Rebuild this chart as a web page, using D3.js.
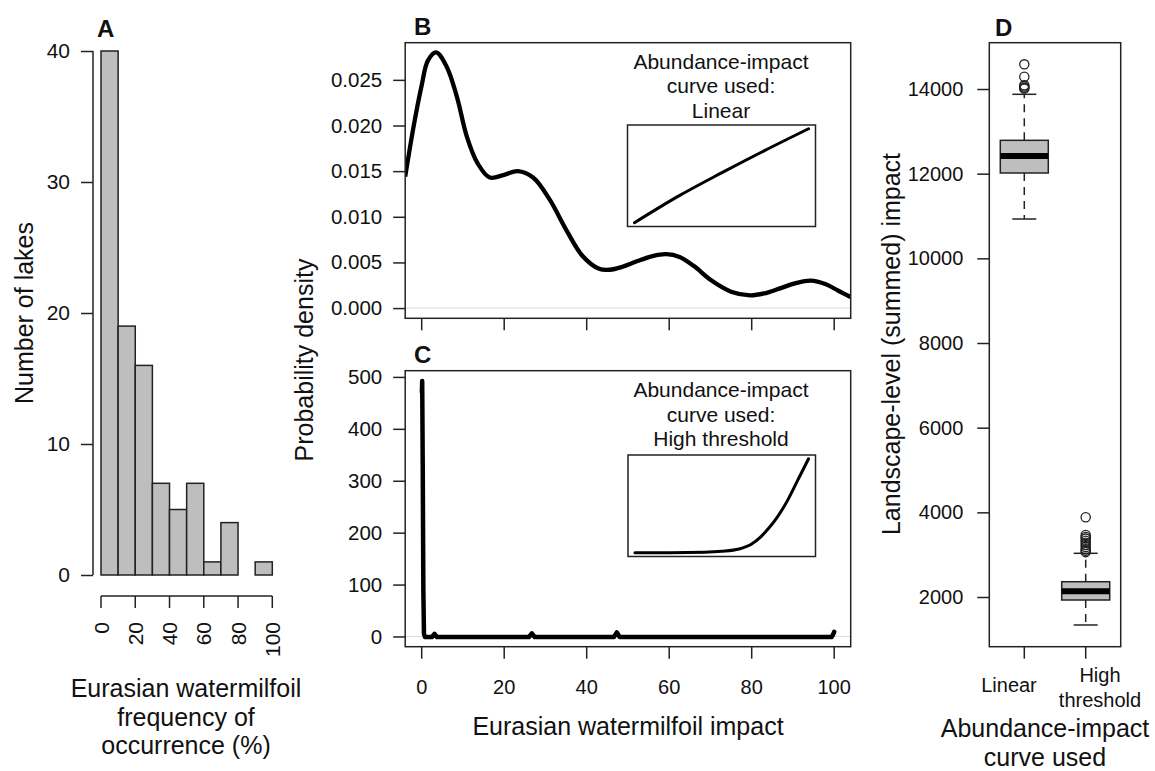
<!DOCTYPE html>
<html>
<head>
<meta charset="utf-8">
<script src="https://cdn.jsdelivr.net/npm/d3@7"></script>
<style>
  body { margin: 0; background: #fff; }
  svg { font-family: "Liberation Sans", Arial, sans-serif; }
</style>
</head>
<body>
<div id="chart"></div>
<script>
  // ---- data ----
  // A: histogram of frequency of occurrence
  var histEdges = [0, 10, 20, 30, 40, 50, 60, 70, 80, 90, 100];
  var histCounts = [40, 19, 16, 7, 5, 7, 1, 4, 0, 1];
  var histXTicks = [0, 20, 40, 60, 80, 100];
  var histYTicks = [0, 10, 20, 30, 40];

  // B: density of impact, linear curve
  var linImpact = [-4, -2, 0, 1.5, 3.5, 6, 8.5, 11, 13.5, 16.5, 20, 23.3, 27, 31, 35, 39, 43, 45.6,
                   48.5, 52, 56, 59.3, 62.5, 66, 70, 75, 79.6, 83, 86.5, 90.5, 94.3, 98, 101, 104];
  var linDensity = [0.0144, 0.0198, 0.0244, 0.0271, 0.0280, 0.0265, 0.0232, 0.0187, 0.0159, 0.0143,
                    0.0146, 0.0150, 0.0143, 0.0119, 0.0086, 0.0057, 0.0043, 0.0042, 0.0045, 0.0051,
                    0.0057, 0.0059, 0.0056, 0.0046, 0.0031, 0.0018, 0.0014, 0.0016, 0.0021, 0.0027,
                    0.0030, 0.0026, 0.0019, 0.0012];
  var linDensityTicks = [0, 0.005, 0.010, 0.015, 0.020, 0.025];

  // C: density of impact, high threshold curve
  var thrImpact = [0.05, 0.12, 0.25, 0.4, 0.55, 0.8, 2.5, 3.1, 3.7, 26, 26.7, 27.4, 46.6, 47.3, 48, 99.4, 99.8, 100];
  var thrDensity = [470, 492, 330, 90, 5, -1, -1, 5, -1, -1, 6, -1, -1, 8, -1, -1, 5, 9];
  var thrDensityTicks = [0, 100, 200, 300, 400, 500];
  var impactTicks = [0, 20, 40, 60, 80, 100];

  // inset abundance-impact curves
  var insetAbundance = [0, 0.25, 0.5, 0.75, 1];
  var insetLinear = [0, 0.28, 0.53, 0.77, 1];
  var insetThrAbund = [0, 0.2, 0.4, 0.5, 0.6, 0.67, 0.72, 0.77, 0.82, 0.88, 0.94, 1];
  var insetThrImpact = [0, 0, 0.005, 0.015, 0.04, 0.09, 0.16, 0.26, 0.38, 0.56, 0.78, 1];

  // D: boxplots of summed impact
  var curveNames = ["Linear", "High threshold"];
  var boxLow = [10929, 1339];
  var boxQ1 = [12016, 1929];
  var boxMedian = [12417, 2135];
  var boxQ3 = [12788, 2361];
  var boxHigh = [13875, 3032];
  var linOutliers = [14583, 14291, 14090, 14060, 14030, 14010];
  var thrOutliers = [3883, 3465, 3420, 3380, 3330, 3280, 3230, 3180, 3130, 3090, 3060];
  var summedTicks = [2000, 4000, 6000, 8000, 10000, 12000, 14000];

  var W = 1155, H = 771;
  var ink = "#222", grayFill = "#bebebe";

  var svg = d3.select("#chart").append("svg")
      .attr("width", W)
      .attr("height", H);

  // small helpers for R-like axes
  function leftAxis(scale, ticks, fmt, x, pad, size) {
    var g = svg.append("g")
        .attr("transform", "translate(" + x + ",0)")
        .call(d3.axisLeft(scale).tickValues(ticks).tickFormat(fmt)
          .tickSize(12).tickPadding(pad || 11).tickSizeOuter(0));
    g.select(".domain").remove();
    g.attr("font-size", size || 20).attr("font-family", null);
    g.selectAll("line").attr("stroke", ink).attr("stroke-width", 1.5);
    g.selectAll("text").attr("fill", "#111");
    return g;
  }
  function bottomTicks(scale, ticks, y) {
    var g = svg.append("g").attr("transform", "translate(0," + y + ")");
    g.selectAll("line").data(ticks).enter().append("line")
      .attr("x1", function(d){ return scale(d); })
      .attr("x2", function(d){ return scale(d); })
      .attr("y1", 0).attr("y2", 12)
      .attr("stroke", ink).attr("stroke-width", 1.5);
    return g;
  }
  function frame(x0, y0, x1, y1, sw) {
    svg.append("rect")
      .attr("x", x0).attr("y", y0)
      .attr("width", x1 - x0).attr("height", y1 - y0)
      .attr("fill", "none").attr("stroke", ink).attr("stroke-width", sw || 1.5);
  }
  function label(txt, x, y, size, opts) {
    opts = opts || {};
    var t = svg.append("text")
      .attr("x", x).attr("y", y)
      .attr("font-size", size)
      .attr("text-anchor", opts.anchor || "middle")
      .attr("fill", "#111")
      .text(txt);
    if (opts.bold) t.attr("font-weight", "bold");
    if (opts.rotate) t.attr("transform", "rotate(-90," + x + "," + y + ")");
    return t;
  }

  // ================= A =================
  var xA = d3.scaleLinear().domain([0, 100]).range([101, 272.3]);
  var yA = d3.scaleLinear().domain([0, 40]).range([575, 51]);

  var bins = histCounts.map(function(c, i) {
    return {x0: histEdges[i], x1: histEdges[i + 1], n: c};
  });
  svg.append("g").selectAll("rect").data(bins)
    .enter().append("rect")
    .attr("x", function(d){ return xA(d.x0); })
    .attr("y", function(d){ return yA(d.n); })
    .attr("width", function(d){ return xA(d.x1) - xA(d.x0); })
    .attr("height", function(d){ return yA(0) - yA(d.n); })
    .attr("fill", grayFill)
    .attr("stroke", ink)
    .attr("stroke-width", 1.5);

  leftAxis(yA, histYTicks, d3.format("d"), 93, 11, 21);
  svg.append("line").attr("x1", 93).attr("x2", 93)
    .attr("y1", yA(0)).attr("y2", yA(40))
    .attr("stroke", ink).attr("stroke-width", 1.5);

  svg.append("line").attr("x1", xA(0)).attr("x2", xA(100))
    .attr("y1", 596).attr("y2", 596)
    .attr("stroke", ink).attr("stroke-width", 1.5);
  bottomTicks(xA, histXTicks, 596);
  svg.append("g").selectAll("text").data(histXTicks)
    .enter().append("text")
    .attr("transform", function(d){ return "translate(" + xA(d) + ",622) rotate(-90)"; })
    .attr("dy", "0.36em")
    .attr("text-anchor", "end")
    .attr("font-size", 21)
    .attr("fill", "#111")
    .text(function(d){ return d; });

  label("A", 97, 36.5, 24, {anchor: "start", bold: true});
  label("Number of lakes", 33, 313, 25, {rotate: true});
  label("Eurasian watermilfoil", 186, 697, 25);
  label("frequency of", 186, 725.5, 25);
  label("occurrence (%)", 186, 754, 25);

  // ================= B =================
  var xB = d3.scaleLinear().domain([-4, 104]).range([405.2, 850.7]);
  var yB = d3.scaleLinear().domain([-0.00112, 0.02907]).range([318.3, 42.7]);

  svg.append("defs").append("clipPath").attr("id", "clipB")
    .append("rect").attr("x", 405.2).attr("y", 42.7)
    .attr("width", 445.5).attr("height", 275.6);

  svg.append("line")
    .attr("x1", xB(-4)).attr("x2", xB(104))
    .attr("y1", yB(0)).attr("y2", yB(0))
    .attr("stroke", "#dcdcdc").attr("stroke-width", 1);

  var lineB = d3.line()
    .x(function(d, i){ return xB(linImpact[i]); })
    .y(function(d){ return yB(d); })
    .curve(d3.curveCatmullRom);
  svg.append("path")
    .attr("d", lineB(linDensity))
    .attr("clip-path", "url(#clipB)")
    .attr("fill", "none")
    .attr("stroke", "#000")
    .attr("stroke-width", 4.3)
    .attr("stroke-linejoin", "round");

  frame(405.2, 42.7, 850.7, 318.3);
  leftAxis(yB, linDensityTicks, d3.format(".3f"), 405.2, 11, 20.5);
  bottomTicks(xB, impactTicks, 318.3);
  label("B", 414, 35, 24, {anchor: "start", bold: true});

  // inset B
  var ixB = d3.scaleLinear().domain([-0.04, 1.04]).range([627.5, 815.5]);
  var iyB = d3.scaleLinear().domain([-0.04, 1.04]).range([226.5, 125]);
  frame(627.5, 125, 815.5, 226.5);
  svg.append("path")
    .attr("d", d3.line()
      .x(function(d, i){ return ixB(insetAbundance[i]); })
      .y(function(d){ return iyB(d); })
      .curve(d3.curveMonotoneX)(insetLinear))
    .attr("fill", "none").attr("stroke", "#000").attr("stroke-width", 3)
    .attr("stroke-linecap", "round");
  label("Abundance-impact", 721, 68.5, 21);
  label("curve used:", 721, 93, 21);
  label("Linear", 721, 117.5, 21);

  // ================= C =================
  var yC = d3.scaleLinear().domain([-19.7, 512]).range([646.7, 370.7]);

  svg.append("line")
    .attr("x1", xB(-4)).attr("x2", xB(104))
    .attr("y1", yC(0)).attr("y2", yC(0))
    .attr("stroke", "#dcdcdc").attr("stroke-width", 1);

  var lineC = d3.line()
    .x(function(d, i){ return xB(thrImpact[i]); })
    .y(function(d){ return yC(d); });
  svg.append("path")
    .attr("d", lineC(thrDensity))
    .attr("fill", "none")
    .attr("stroke", "#000")
    .attr("stroke-width", 4.5)
    .attr("stroke-linejoin", "round")
    .attr("stroke-linecap", "round");

  frame(405.2, 370.7, 850.7, 646.7);
  leftAxis(yC, thrDensityTicks, d3.format("d"), 405.2, 11, 20.5);
  bottomTicks(xB, impactTicks, 646.7);
  svg.append("g").selectAll("text").data(impactTicks)
    .enter().append("text")
    .attr("x", function(d){ return xB(d); })
    .attr("y", 694)
    .attr("text-anchor", "middle")
    .attr("font-size", 20)
    .attr("fill", "#111")
    .text(function(d){ return d; });

  label("C", 414, 363, 24, {anchor: "start", bold: true});
  label("Probability density", 313, 360, 25, {rotate: true});
  label("Eurasian watermilfoil impact", 628, 735, 25);

  // inset C
  var ixC = d3.scaleLinear().domain([-0.04, 1.04]).range([628, 815.5]);
  var iyC = d3.scaleLinear().domain([-0.04, 1.04]).range([556.5, 455]);
  frame(628, 455, 815.5, 556.5);
  svg.append("path")
    .attr("d", d3.line()
      .x(function(d, i){ return ixC(insetThrAbund[i]); })
      .y(function(d){ return iyC(d); })
      .curve(d3.curveMonotoneX)(insetThrImpact))
    .attr("fill", "none").attr("stroke", "#000").attr("stroke-width", 3)
    .attr("stroke-linecap", "round");
  label("Abundance-impact", 721, 397, 21);
  label("curve used:", 721, 421.5, 21);
  label("High threshold", 721, 446, 21);

  // ================= D =================
  var xD = d3.scaleLinear().domain([0.43, 2.57]).range([989.3, 1120.7]);
  var yD = d3.scaleLinear().domain([826, 15094]).range([646.7, 42.7]);
  var halfBox = 24, halfCap = 12;

  var boxes = curveNames.map(function(name, i) {
    return {name: name, pos: i + 1, lo: boxLow[i], q1: boxQ1[i], med: boxMedian[i],
            q3: boxQ3[i], hi: boxHigh[i], out: i === 0 ? linOutliers : thrOutliers};
  });

  var bx = svg.append("g").selectAll("g").data(boxes).enter().append("g");
  // whiskers (dashed)
  bx.append("line")
    .attr("x1", function(d){ return xD(d.pos); }).attr("x2", function(d){ return xD(d.pos); })
    .attr("y1", function(d){ return yD(d.q3); }).attr("y2", function(d){ return yD(d.hi); })
    .attr("stroke", ink).attr("stroke-width", 1.5).attr("stroke-dasharray", "8,6");
  bx.append("line")
    .attr("x1", function(d){ return xD(d.pos); }).attr("x2", function(d){ return xD(d.pos); })
    .attr("y1", function(d){ return yD(d.q1); }).attr("y2", function(d){ return yD(d.lo); })
    .attr("stroke", ink).attr("stroke-width", 1.5).attr("stroke-dasharray", "8,6");
  // caps
  ["hi", "lo"].forEach(function(k) {
    bx.append("line")
      .attr("x1", function(d){ return xD(d.pos) - halfCap; })
      .attr("x2", function(d){ return xD(d.pos) + halfCap; })
      .attr("y1", function(d){ return yD(d[k]); }).attr("y2", function(d){ return yD(d[k]); })
      .attr("stroke", ink).attr("stroke-width", 1.5);
  });
  // box
  bx.append("rect")
    .attr("x", function(d){ return xD(d.pos) - halfBox; })
    .attr("y", function(d){ return yD(d.q3); })
    .attr("width", halfBox * 2)
    .attr("height", function(d){ return yD(d.q1) - yD(d.q3); })
    .attr("fill", grayFill).attr("stroke", ink).attr("stroke-width", 1.5);
  // median
  bx.append("line")
    .attr("x1", function(d){ return xD(d.pos) - halfBox; })
    .attr("x2", function(d){ return xD(d.pos) + halfBox; })
    .attr("y1", function(d){ return yD(d.med); }).attr("y2", function(d){ return yD(d.med); })
    .attr("stroke", "#000").attr("stroke-width", 6);
  // outliers
  bx.each(function(d) {
    d3.select(this).selectAll("circle").data(d.out).enter().append("circle")
      .attr("cx", xD(d.pos))
      .attr("cy", function(v){ return yD(v); })
      .attr("r", 4.6)
      .attr("fill", "none").attr("stroke", ink).attr("stroke-width", 1.3);
  });

  frame(989.3, 42.7, 1120.7, 646.7);
  leftAxis(yD, summedTicks, d3.format("d"), 989.3, 14, 20);
  bottomTicks(xD, [1, 2], 646.7);

  label("Linear", 1009, 692, 20);
  label("High", 1100, 682, 20);
  label("threshold", 1100, 707, 20);

  label("D", 995, 36, 24, {anchor: "start", bold: true});
  label("Landscape-level (summed) impact", 900, 344, 25, {rotate: true});
  label("Abundance-impact", 1045, 737, 25);
  label("curve used", 1045, 766, 25);
</script>
</body>
</html>
